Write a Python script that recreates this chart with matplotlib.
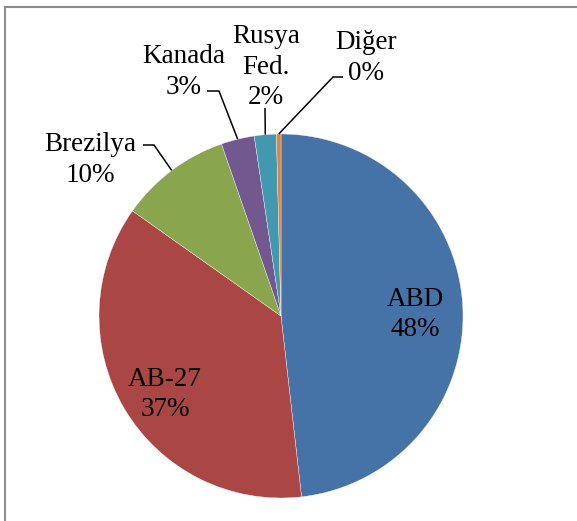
import matplotlib

matplotlib.use("Agg")
import matplotlib.pyplot as plt
import numpy as np
from matplotlib.lines import Line2D

# veriler
ulkeler = ["ABD", "AB-27", "Brezilya", "Kanada", "Rusya\nFed.", "Diğer"]
paylar = [48.2, 36.6, 9.9, 2.95, 1.95, 0.4]
renkler = ["#4572A7", "#AA4643", "#89A54E", "#71588F", "#4198AF", "#DB843D"]

W, H = 577, 521
CX, CY, R = 281, H - 316, 182

plt.rcParams["font.family"] = ["Liberation Serif", "DejaVu Serif"]
FS = 19.5
LS = 1.27

fig = plt.figure(figsize=(W / 100, H / 100), dpi=100)
ax = fig.add_axes([0, 0, 1, 1])

wedges, _ = ax.pie(paylar, colors=renkler, startangle=90, counterclock=False,
                   center=(CX, CY), radius=R,
                   wedgeprops=dict(edgecolor="white", linewidth=0.25))
ax.set_xlim(0, W)
ax.set_ylim(0, H)
ax.axis("off")


def kenar(w, r):
    a = np.deg2rad((w.theta1 + w.theta2) / 2)
    return CX + r * np.cos(a), CY + r * np.sin(a)


def etiket(i):
    return f"{ulkeler[i]}\n{paylar[i]:.0f}%"


# dilim içi etiketler
for i, (dx, dy) in zip([0, 1], [(0, -6), (0, -10)]):
    x, y = kenar(wedges[i], R * 0.74)
    ax.text(x + dx, y + dy, etiket(i), ha="center", va="center", fontsize=FS,
            linespacing=LS)

# dışarıdaki etiketler: metin merkezi ve kırılma noktaları (piksel, üstten)
dis = {
    2: ((90, 160), [(143, 145), (154, 145)]),
    3: ((184, 72), [(207, 91), (219, 91)]),
    4: ((266, 67), [(265, 108)]),
    5: ((366, 58), [(343, 77), (333, 77)]),
}
for i, ((tx, ty), kirik) in dis.items():
    ax.text(tx, H - ty, etiket(i), ha="center", va="center", fontsize=FS,
            linespacing=LS)
    ex, ey = kenar(wedges[i], R)
    xs = [p[0] for p in kirik] + [ex]
    ys = [H - p[1] for p in kirik] + [ey]
    ax.plot(xs, ys, color="black", lw=1.1, solid_capstyle="butt")

# çerçeve
fig.add_artist(Line2D([5 / W, 1], [1 - 7 / H, 1 - 7 / H], transform=fig.transFigure,
                      color="#8c8c8c", lw=1.5))
fig.add_artist(Line2D([5 / W, 5 / W], [0, 1 - 7 / H], transform=fig.transFigure,
                      color="#8c8c8c", lw=1.5))

fig.savefig("out.png", dpi=100, facecolor="white")
